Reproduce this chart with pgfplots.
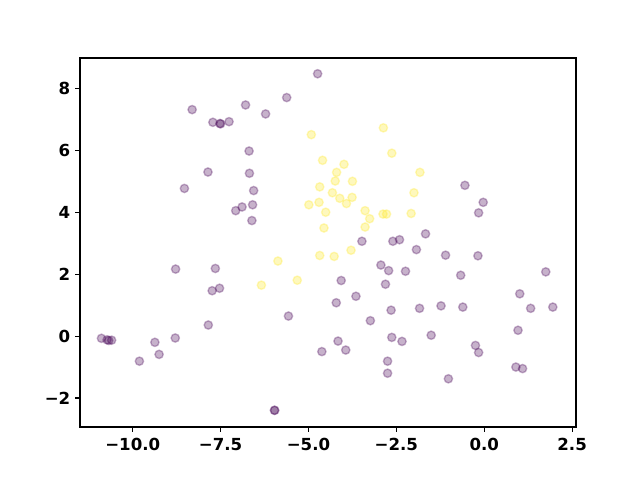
\documentclass[border=0pt]{standalone}
\usepackage{pgfplots}
\pgfplotsset{compat=1.18}
\usepackage{fontspec}
\setmainfont{DejaVu Sans}
\definecolor{vpurple}{HTML}{440154}
\definecolor{vyellow}{HTML}{FDE725}
\begin{document}
\begin{tikzpicture}
\useasboundingbox (-0.80in,-0.53in) rectangle (5.60in,4.27in);
\begin{axis}[
  at={(0,0)}, anchor=south west,
  scale only axis, width=4.96in, height=3.69in,
  xmin=-11.50, xmax=2.61, ymin=-2.94, ymax=9.0,
  axis line style={line width=0.8pt},
  tick align=outside, tick pos=left,
  major tick length=3.5pt,
  every tick/.style={line width=0.8pt, black},
  xtick={-10,-7.5,-5,-2.5,0,2.5},
  xticklabels={−10.0,−7.5,−5.0,−2.5,0.0,2.5},
  ytick={-2,0,2,4,6,8},
  yticklabels={−2,0,2,4,6,8},
  ticklabel style={font=\fontsize{12}{14}\selectfont\bfseries},
  xticklabel style={yshift=-1pt},
  /pgf/number format/assume math mode=true,
  clip=false,
]
\addplot[only marks, mark=*, mark size=3pt,
  mark options={fill=vpurple, draw=vpurple, fill opacity=0.3, draw opacity=0.3, line width=1pt}]
coordinates {
(-4.74,8.49) (-8.31,7.33) (-7.72,6.92) (-7.52,6.88) (-7.50,6.87) (-7.26,6.94)
(-6.79,7.48) (-5.62,7.72) (-6.22,7.19) (-6.69,5.99) (-6.68,5.27) (-7.86,5.31)
(-8.53,4.78) (-6.56,4.71) (-6.89,4.18) (-7.07,4.06) (-6.59,4.25) (-6.61,3.74)
(-3.48,3.07) (-2.60,3.07) (-2.41,3.12) (-0.55,4.88) (-0.03,4.33) (-0.16,3.99)
(-1.67,3.31) (-8.78,2.17) (-7.65,2.19) (-7.74,1.47) (-7.53,1.55) (-7.85,0.36)
(-10.89,-0.07) (-10.73,-0.12) (-10.68,-0.14) (-10.60,-0.13) (-9.37,-0.20)
(-8.79,-0.06) (-9.25,-0.59) (-9.81,-0.81)
(-2.94,2.30) (-2.72,2.12) (-2.24,2.10) (-4.07,1.80) (-2.81,1.68) (-3.65,1.29)
(-4.21,1.08) (-5.57,0.65) (-2.65,0.84) (-3.24,0.50) (-2.63,-0.04) (-2.34,-0.17)
(-4.16,-0.16) (-3.94,-0.45) (-4.62,-0.50) (-2.75,-0.81) (-2.75,-1.20)
(-5.97,-2.40) (-5.96,-2.40)
(-1.93,2.80) (-1.10,2.62) (-0.18,2.60) (-0.67,1.97) (1.75,2.08) (1.01,1.37)
(-1.84,0.90) (-1.23,0.98) (-0.61,0.94) (1.32,0.90) (1.95,0.94) (0.96,0.19)
(-1.51,0.03) (-0.25,-0.30) (-0.16,-0.53) (0.90,-1.00) (1.09,-1.05) (-1.02,-1.38)
};
\addplot[only marks, mark=*, mark size=3pt,
  mark options={fill=vyellow, draw=vyellow, fill opacity=0.3, draw opacity=0.3, line width=1pt}]
coordinates {
(-4.92,6.52) (-2.87,6.74) (-2.63,5.92) (-4.60,5.69) (-3.99,5.56) (-4.20,5.30)
(-4.24,5.02) (-3.75,5.01) (-4.68,4.83) (-4.32,4.64) (-4.11,4.46) (-3.76,4.49)
(-3.92,4.29) (-4.99,4.25) (-4.70,4.33) (-4.51,4.01) (-3.39,4.06) (-3.26,3.80)
(-2.88,3.95) (-2.78,3.95) (-2.08,3.97) (-4.56,3.50) (-3.39,3.53) (-1.83,5.30)
(-2.00,4.64) (-5.87,2.43) (-6.34,1.65) (-5.32,1.81) (-4.68,2.61) (-4.27,2.58)
(-3.79,2.78)
};
\end{axis}
\end{tikzpicture}
\end{document}
